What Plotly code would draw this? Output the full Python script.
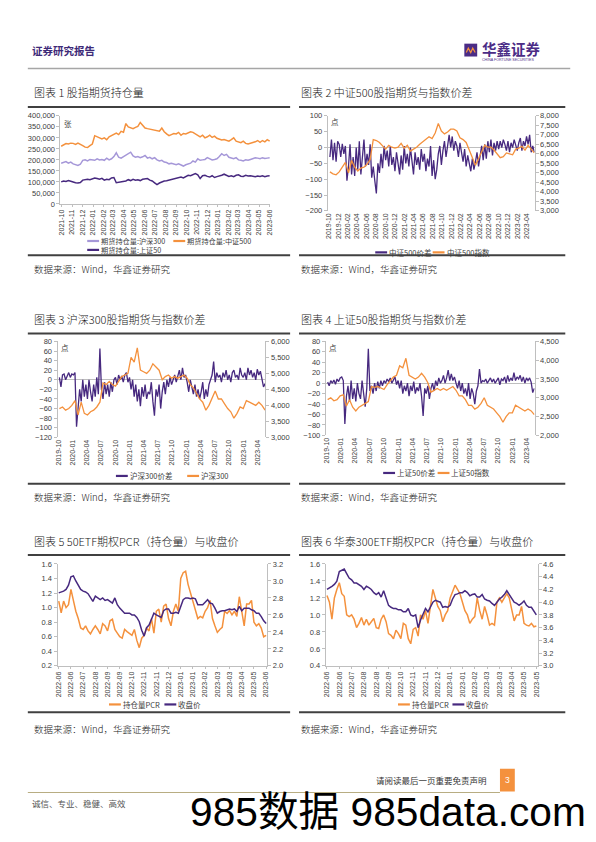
import plotly.graph_objects as go
import pandas as pd

# ---------------- data ----------------
# Chart 1: open interest (thousand contracts), weekly samples from 2021-09-30
oi_start = "2021-09-30"
oi_hs300_k = [185,188,192,185,190, 182,178,175,180, 198,200,195,202,200, 198,205,200,202, 198,208,200,205,
              215,232,212,208,215, 218,225,235,218, 212,215,210,214, 220,208,212,205,210, 200,195,198,190,
              188,182,185,180, 178,182,175,172,178, 180,185,195,190, 205,198,200,202, 210,205,200,202,205,
              215,228,220,225, 212,208,205,210, 200,198,195,200,198, 202,205,210,208, 205,210,206,208, 210]
oi_csi500_k = [262,268,274,272,276, 275,270,276,272, 265,258,256,265,272, 310,305,300,295, 300,292,305,310,
               318,322,315,330,326, 365,350,345,342, 348,352,370,355, 345,342,340,338,336, 335,330,345,328,
               318,310,315,320, 318,325,312,320,318, 322,328,325,318, 310,305,312,300, 305,312,302,308,298,
               295,290,292,288, 285,292,300,285, 282,278,285,275,272, 275,278,282,288, 280,288,282,292, 285]
oi_sz50_k = [100,104,102,106,103, 98,96,95,97, 108,110,112,110,115, 118,115,112,116, 108,112,110,118,
             120,96,98,100,102, 104,110,106,112, 108,110,106,112, 112,115,108,104,96, 88,95,100,104,
             105,108,110,115, 118,120,122,118,125, 130,128,135,138, 132,115,128,130, 125,122,128,120,124,
             126,130,135,128, 125,128,124,130, 132,126,125,130,127, 128,125,124,127, 125,128,124,127, 128]
oi_tickvals_k = [0, 50, 100, 150, 200, 250, 300, 350, 400]
oi_ticktext = ["0", "50,000", "100,000", "150,000", "200,000", "250,000", "300,000", "350,000", "400,000"]

# Charts 2-4: spreads sampled every 10 days, index levels every 20 days, from 2019-10-08
spread_start = "2019-10-08"
index_start = "2019-10-08"
csi500_spread = [-30,25,-40, 15,-45,20, 10,-30,12, -20,5,-105, -60,10,-85, -30,-90,0, -70,20,-85, -40,25,-60,
                 -20,-55,10, -95,-60,-105, -145,-50,-80, -20,-65,5, -40,-10,-60, 5,-55,-30, -75,-15,-45,-85,
                 -25,-70,5, -50,-20, -60,0,-40,-85, -15,-55,-30, -70,-5,-45, -20,-75,-35, -60,5,-90,
                 -40,-100,-70, -20,5,-55, -10,20,-30, 10,40,0, 35,-10,20, 5,-30,15, -20,-45,-5,
                 -60,-25,-50, -75,-35,-70, -45,-15,-60, -30,5,-40, 10,-35,20, -15,25,-25, 15,-10,20,
                 -5,20,0, 25,10,-10, 20,-15,15,0, 25,5,-10, 15,30, -10,20,5,35, 10,40,-15, 5,-15]
csi500_index = [5050,4950,4900,5050,5300,5550,5000,5650,5300,5100,5250,5300,5450,5700,6750,6700,6600,6400,
                6250,6450,6350,6300,6350,6550,6300,6450,6150,6250,6350,6500,6650,6750,6900,6800,7100,7600,
                7200,7050,7150,7300,7300,7200,6850,6750,6600,6200,5800,5400,5750,6100,6450,6350,6350,6200,
                6000,5800,5850,6050,6000,5950,6250,6300,6400,6200,6450,6250,6050]
hs300_spread = [5,-15,10, 12,0,8, 15,5,12, 10,15,-98, -60,-20,-45, 0,-35,-10, -40,0,-25, -45,-10,-35,
                5,-30,65, -20,-40,-5, -30,-10,-35, -5,-25,0, 5,-10,10, 0,8,-5, 10,15,-5,5,
                -20,0,-35, -10,-45, -20,-55,-15,-35, -10,-40,-25, -30,-5,-45, -75,-20,-35, -10,-60,-25,
                -5,-30,0, -15,5,-10, 0,10,-5, 5,20,0, 25,5,10, -5,-25,0, -15,-30,-10,
                -35,-20,-40, -25,-5,-40, -20,-35,-10, 0,10,38, -5,15,5, 10,-5,15, 5,20,0,
                10,-5,15, 20,5,10, 0,25,10,5, 15,0,25, 10,20, 5,15,0,22, 10,18,0, -15,-8]
hs300_index = [3900,3950,3850,3900,4000,4150,3700,4100,3750,3700,3800,3850,3950,4100,4700,4650,4750,4650,
               4600,4750,4900,4950,5000,5500,5350,5800,5100,5050,5000,5100,5300,5200,5100,4800,4900,4950,
               4850,4900,4850,4900,4950,4850,4650,4550,4350,4200,4100,3850,4000,4250,4450,4200,4200,4050,
               3900,3800,3600,3750,3950,3900,4150,4100,4050,4000,4100,4000,3850]
sz50_spread = [2,-5,5, 0,6,-2, 8,3,10, 12,5,-78, -25,-5,-35, 5,-30,-10, -35,0,-20, -30,5,-25,
               -45,-10,66, -15,-5,-20, 0,-15,3, -10,5,-5, 5,0,8, 3,10,0, 8,12,-3,5,
               -10,5,-20, -5,-15, 0,-25,-5,-15, 3,-20,-8, -15,0,-25, -63,-10,-20, -5,-30,-10,
               0,-15,5, -5,10,0, 5,15,0, 10,25,5, 18,5,12, 0,-10,5, -15,0,-20,
               -10,-25,0, -30,-10,-20, -40,-15,-5, 27,0,5, 3,8,0, 5,10,2, 8,0,6,
               10,-3,8, 5,12,0, 15,3,10,5, 20,5,12, 8,15, 3,12,0,10, 5,10,2, -18,-10]
sz50_index = [2950,3000,2920,2950,3050,3080,2780,2950,2750,2650,2750,2800,2850,2900,3300,3280,3300,3250,
              3220,3350,3450,3550,3600,3850,3800,4050,3600,3550,3500,3550,3650,3550,3400,3150,3200,3250,
              3200,3250,3200,3250,3300,3200,3050,3050,2950,2800,2800,2700,2750,2850,3000,2800,2750,2700,
              2600,2500,2350,2500,2600,2600,2800,2750,2700,2650,2700,2650,2550]

# Charts 5-6: option PCR (open interest) and ETF close, sampled every ~3 trading days
etf50_pcr = [1.09,0.93,1.09,1.0,1.04,1.25,1.1,0.95,0.85,0.72, 0.7,0.75,0.68,0.64,0.7,0.75,0.7,0.64,0.78,0.75,
             0.68,0.82,0.84,0.7,0.65,0.6,0.58,0.7,0.67,0.64, 0.62,0.7,0.55,0.45,0.58,0.62,0.72,0.68,0.85,0.65,
             0.95,0.98,0.8,1.02,1.05,0.85,0.75,0.95,1.05,0.95, 1.4,1.48,1.5,1.32,1.2,1.1,0.95,0.85,0.88,0.86,
             0.95,1.0,1.1,0.85,0.75,0.66,0.7,0.73,0.95,0.92, 0.96,0.9,0.95,0.88,1.15,0.95,0.75,1.05,1.05,1.1,
             0.8,0.75,0.78,0.72,0.6,0.62]
etf50_close = [2.86,2.87,2.88,2.9,2.95,3.05,3.06,3.0,2.95,2.9, 2.88,2.87,2.85,2.8,2.76,2.82,2.8,2.78,2.8,2.77,
               2.78,2.76,2.74,2.8,2.72,2.68,2.65,2.62,2.62,2.62, 2.6,2.6,2.57,2.52,2.42,2.35,2.45,2.48,2.55,2.62,
               2.6,2.58,2.57,2.65,2.67,2.67,2.62,2.62,2.63,2.62, 2.7,2.78,2.8,2.8,2.79,2.8,2.79,2.72,2.72,2.72,
               2.75,2.78,2.74,2.73,2.68,2.62,2.64,2.65,2.65,2.66, 2.67,2.66,2.67,2.64,2.7,2.65,2.68,2.68,2.68,2.66,
               2.65,2.62,2.62,2.58,2.53,2.5]
etf50_labels = ["2022-06","2022-06","2022-07","2022-08","2022-09","2022-09","2022-10","2022-11","2022-11",
                "2022-12","2023-01","2023-01","2023-02","2023-03","2023-03","2023-04","2023-05","2023-06"]
hs300etf_pcr = [1.23,1.15,0.95,1.2,1.3,1.38,1.25,1.22,1.0,0.98, 1.0,0.95,0.85,0.9,0.97,0.88,0.95,0.88,0.92,0.96,
                0.85,0.84,0.95,1.0,0.92,0.78,0.76,0.72,0.82,0.78, 0.72,0.9,0.88,0.72,0.66,0.83,0.85,0.75,1.0,0.95,
                1.05,0.9,1.1,1.3,1.2,1.1,1.05,0.92,1.0,1.05, 1.2,1.28,1.35,1.3,1.25,1.15,1.05,1.0,0.9,0.95,
                0.98,1.2,1.05,0.95,1.1,1.0,0.88,0.9,0.88,1.15, 1.2,1.15,1.2,1.25,1.2,1.05,0.93,1.0,1.0,1.1,
                0.9,0.88,0.87,0.9,0.86,0.87]
hs300etf_close = [4.2,4.22,4.25,4.28,4.33,4.48,4.5,4.52,4.45,4.38, 4.35,4.3,4.3,4.28,4.25,4.2,4.25,4.23,4.2,4.15,
                  4.12,4.15,4.08,4.18,4.05,3.95,3.92,3.9,3.9,3.88, 3.88,3.85,3.85,3.9,3.8,3.78,3.8,3.6,3.72,3.8,
                  3.9,3.85,3.92,4.0,4.03,4.02,4.0,3.92,3.93,3.92, 3.95,4.05,4.12,4.13,4.15,4.15,4.18,4.15,4.1,4.12,
                  4.13,4.08,4.08,4.12,4.05,4.03,4.02,3.98,3.95,4.0, 4.05,4.08,4.12,4.18,4.12,4.08,4.0,3.98,3.95,3.98,
                  4.02,3.95,3.92,3.92,3.85,3.8]
hs300etf_labels = ["2022-06","2022-06","2022-07","2022-08","2022-08","2022-09","2022-10","2022-11","2022-11",
                   "2022-12","2023-01","2023-01","2023-02","2023-03","2023-03","2023-04","2023-05","2023-05"]

# ---------------- helpers ----------------
OFF = 8                      # default page margin of the html body
W, H = 596 - OFF, 842 - OFF  # figure size so that it fits the window exactly
def px(x): return (x - OFF) / W
def py(y): return 1 - (y - OFF) / H

ORANGE = "#F4913D"
PURPLE = "#47297F"
LAVENDER = "#A597D8"
AX = "#BFBFBF"
TXT = "#404040"
NUMF = "Liberation Sans, Arial, sans-serif"
CJK = "Noto Sans CJK SC, sans-serif"
TF = dict(family=NUMF, size=7.5, color=TXT)
TFX = dict(family=NUMF, size=7, color=TXT)

oi_dates = pd.date_range(oi_start, periods=len(oi_csi500_k), freq="7D")
spread_dates = pd.date_range(spread_start, periods=len(csi500_spread), freq="10D")
index_dates = pd.date_range(index_start, periods=len(csi500_index), freq="20D")
opt_idx = list(range(len(etf50_pcr)))

fig = go.Figure()
def line(x, y, color, xa, ya, w=1.3):
    fig.add_trace(go.Scatter(x=x, y=y, mode="lines", line=dict(color=color, width=w),
                             xaxis=xa, yaxis=ya, showlegend=False, hoverinfo="skip"))

line(oi_dates, oi_hs300_k, LAVENDER, "x", "y", 1.5)
line(oi_dates, oi_csi500_k, ORANGE, "x", "y", 1.5)
line(oi_dates, oi_sz50_k, PURPLE, "x", "y", 1.5)
line(spread_dates, csi500_spread, PURPLE, "x2", "y2", 1.3)
line(index_dates, csi500_index, ORANGE, "x2", "y3", 1.3)
line(spread_dates, hs300_spread, PURPLE, "x3", "y4", 1.3)
line(index_dates, hs300_index, ORANGE, "x3", "y5", 1.3)
line(spread_dates, sz50_spread, PURPLE, "x4", "y6", 1.3)
line(index_dates, sz50_index, ORANGE, "x4", "y7", 1.3)
line(opt_idx, etf50_pcr, ORANGE, "x5", "y8", 1.5)
line(opt_idx, etf50_close, PURPLE, "x5", "y9", 1.5)
line(opt_idx, hs300etf_pcr, ORANGE, "x6", "y10", 1.5)
line(opt_idx, hs300etf_close, PURPLE, "x6", "y11", 1.5)

# plot boxes in page pixels (x0, x1, ytop, ybottom)
C1 = (58, 270, 113, 202)
C2 = (328, 537, 113, 209)
C3 = (55, 265, 341, 438)
C4 = (326, 537, 341, 436)
C5 = (55, 267, 566, 669)
C6 = (326, 540, 566, 669)
def xd(c): return [px(c[0]), px(c[1])]
def yd(c): return [py(c[3]), py(c[2])]

def xdate(c, anchor, rng, dtick, tick0, line_on=False):
    return dict(domain=xd(c), anchor=anchor, type="date", range=rng, dtick=dtick, tick0=tick0,
                tickformat="%Y-%m", tickangle=-90, tickfont=TFX, showgrid=False, zeroline=False,
                showline=line_on, linecolor=AX, linewidth=1,
                ticks="outside" if line_on else "", ticklen=2, tickcolor=AX)

def xcat(c, anchor, labels, step, n):
    return dict(domain=xd(c), anchor=anchor, range=[-0.5, n - 0.5], tickvals=[i * step for i in range(len(labels))],
                ticktext=labels, tickangle=-90, tickfont=TFX, showgrid=False, zeroline=False,
                showline=True, linecolor=AX, linewidth=1, ticks="outside", ticklen=2, tickcolor=AX)

def yleft(c, anchor, rng, tickvals, ticktext=None, zero=False):
    d = dict(domain=yd(c), anchor=anchor, range=rng, tickvals=tickvals, tickfont=TF, showgrid=False,
             zeroline=zero, zerolinecolor=AX, zerolinewidth=1, showline=True, linecolor=AX, linewidth=1,
             ticks="outside", ticklen=3, tickcolor=AX)
    if ticktext is not None:
        d["ticktext"] = ticktext
    return d

def yright(over, anchor, rng, tickvals, ticktext):
    return dict(overlaying=over, anchor=anchor, side="right", range=rng, tickvals=tickvals, ticktext=ticktext,
                tickfont=TF, showgrid=False, zeroline=False, showline=True, linecolor=AX, linewidth=1,
                ticks="outside", ticklen=3, tickcolor=AX)

def fmt_thousands(vals): return [f"{v:,}" for v in vals]
def fmt1(vals): return [f"{v:.1f}" for v in vals]

r2 = list(range(3000, 8001, 500))
r3 = list(range(3000, 6001, 500))
r4 = list(range(2000, 4501, 500))
l5 = [0.2, 0.4, 0.6, 0.8, 1.0, 1.2, 1.4, 1.6]
rr5 = [2.0, 2.2, 2.4, 2.6, 2.8, 3.0, 3.2]
l6 = [0.4, 0.6, 0.8, 1.0, 1.2, 1.4, 1.6]
rr6 = [3.0, 3.2, 3.4, 3.6, 3.8, 4.0, 4.2, 4.4, 4.6]

fig.update_layout(
    width=W, height=H, margin=dict(l=0, r=0, t=0, b=0, pad=0),
    paper_bgcolor="white", plot_bgcolor="white", showlegend=False,
    xaxis=xdate(C1, "y", ["2021-09-28", "2023-06-03"], "M1", "2021-10-01", True),
    yaxis=yleft(C1, "x", [0, 400], oi_tickvals_k, oi_ticktext),
    xaxis2=xdate(C2, "y2", ["2019-09-24", "2023-05-22"], "M2", "2019-10-01"),
    yaxis2=yleft(C2, "x2", [-200, 100], list(range(-200, 101, 50)), zero=True),
    yaxis3=yright("y2", "x2", [3000, 8000], r2, fmt_thousands(r2)),
    xaxis3=xdate(C3, "y4", ["2019-09-26", "2023-05-22"], "M3", "2019-10-01"),
    yaxis4=yleft(C3, "x3", [-120, 80], list(range(-120, 81, 20)), zero=True),
    yaxis5=yright("y4", "x3", [3000, 6000], r3, fmt_thousands(r3)),
    xaxis4=xdate(C4, "y6", ["2019-09-26", "2023-05-22"], "M3", "2019-10-01"),
    yaxis6=yleft(C4, "x4", [-100, 80], list(range(-100, 81, 20)), zero=True),
    yaxis7=yright("y6", "x4", [2000, 4500], r4, fmt_thousands(r4)),
    xaxis5=xcat(C5, "y8", etf50_labels, 5, len(etf50_pcr)),
    yaxis8=yleft(C5, "x5", [0.2, 1.6], l5, fmt1(l5)),
    yaxis9=yright("y8", "x5", [2.0, 3.2], rr5, fmt1(rr5)),
    xaxis6=xcat(C6, "y10", hs300etf_labels, 5, len(hs300etf_pcr)),
    yaxis10=yleft(C6, "x6", [0.4, 1.6], l6, fmt1(l6)),
    yaxis11=yright("y10", "x6", [3.0, 4.6], rr6, fmt1(rr6)),
)

ann = []
def text(x, y, s, size=9, color="#222", family=CJK, xanchor="left", weight=None):
    f = dict(family=family, size=size, color=color)
    if weight is not None:
        f["weight"] = weight
    ann.append(dict(x=px(x), y=py(y), xref="paper", yref="paper", text=s, showarrow=False,
                    xanchor=xanchor, yanchor="middle", font=f, borderpad=0))

shapes = []
def hline(x0, x1, y, color, w):
    shapes.append(dict(type="line", xref="paper", yref="paper", x0=px(x0), x1=px(x1), y0=py(y), y1=py(y),
                       line=dict(color=color, width=w)))

# header
text(28, 47, "<b>证券研究报告</b>", 10.5, "#3E2A78")
shapes.append(dict(type="rect", xref="paper", yref="paper", x0=px(466), x1=px(479), y0=py(53), y1=py(40),
                   fillcolor="#4B2C86", line=dict(width=0)))
shapes.append(dict(type="path", xref="paper", yref="paper",
                   path=f"M {px(468)},{py(49)} L {px(470)},{py(44.5)} L {px(472.5)},{py(49)} L {px(474.5)},{py(44.5)} L {px(477)},{py(49)}",
                   line=dict(color="#F4913D", width=1.2)))
text(483, 44.5, "<b>华鑫证券</b>", 14.5, "#4B2C86")
text(483, 57, "CHINA FORTUNE SECURITIES", 3.6, "#4B2C86", NUMF)
hline(25, 573, 65, "#A6A6A6", 1.5)

# titles
TC = "#1a1a1a"
text(30, 89, "图表 1 股指期货持仓量", 11, TC, weight=300)
text(300, 89, "图表 2 中证500股指期货与指数价差", 11, TC, weight=300)
text(30, 318, "图表 3 沪深300股指期货与指数价差", 11, TC, weight=300)
text(300, 318, "图表 4 上证50股指期货与指数价差", 11, TC, weight=300)
text(30, 543, "图表 5 50ETF期权PCR（持仓量）与收盘价", 11, TC, weight=300)
text(300, 543, "图表 6 华泰300ETF期权PCR（持仓量）与收盘价", 11, TC, weight=300)

# section rules
for y in (104, 254, 333, 485, 557, 716):
    hline(25, 290, y, "#404040", 2)
    hline(299, 568, y, "#404040", 2)

# data source
for x, y in ((30, 268), (300, 268), (30, 498), (300, 498), (30, 733), (300, 733)):
    text(x, y, "数据来源：Wind，华鑫证券研究", 9.5, "#222", weight=300)

# units
text(61, 121, "张", 7.5, TXT)
text(330, 119, "点", 7.5, TXT)
text(57, 347, "点", 7.5, TXT)
text(328, 347, "点", 7.5, TXT)

# legends
def leg(x, y, color, label, size=7.5):
    hline(x, x + 12, y, color, 2.2)
    text(x + 13, y, label, size, TXT)

leg(85, 239.5, LAVENDER, "期货持仓量:沪深300", 7.2)
leg(172, 239.5, ORANGE, "期货持仓量:中证500", 7.2)
leg(85, 248.5, PURPLE, "期货持仓量:上证50", 7.2)
leg(376, 251, PURPLE, "中证500价差")
leg(434, 251, ORANGE, "中证500指数")
leg(114, 477, PURPLE, "沪深300价差")
leg(186, 477, ORANGE, "沪深300")
leg(384, 474, PURPLE, "上证50价差")
leg(439, 474, ORANGE, "上证50指数")
leg(107, 708, ORANGE, "持仓量PCR")
leg(163, 708, PURPLE, "收盘价")
leg(399, 708, ORANGE, "持仓量PCR")
leg(454, 708, PURPLE, "收盘价")

# footer
text(490, 784, "请阅读最后一页重要免责声明", 8.5, "#333", xanchor="right")
shapes.append(dict(type="rect", xref="paper", yref="paper", x0=px(502), x1=px(517), y0=py(796), y1=py(773),
                   fillcolor="#F4913D", line=dict(width=0)))
text(509.5, 784, "3", 8.5, "white", NUMF, xanchor="center")
hline(25, 502, 797, "#B8AD82", 1.2)
text(28, 808, "诚信、专业、稳健、高效", 8.5, "#555")
text(188, 817, "985数据 985data.com", 40.7, "#000", "Liberation Sans, Noto Sans CJK SC, sans-serif")

fig.update_layout(annotations=ann, shapes=shapes)
fig.write_html("out.html", config={"displayModeBar": False})
